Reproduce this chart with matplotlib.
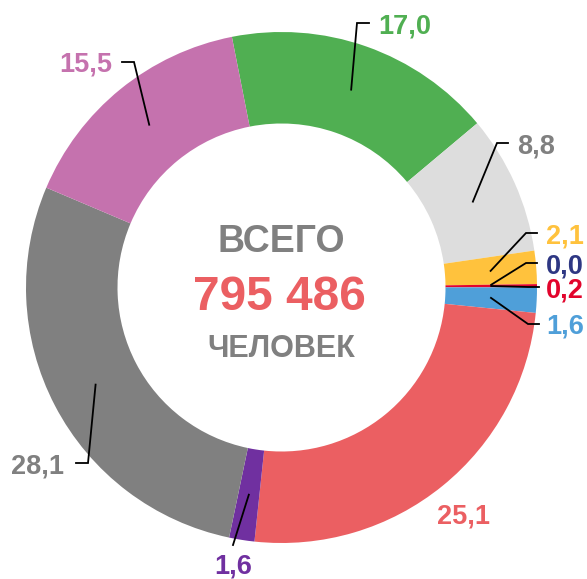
import matplotlib
matplotlib.use('Agg')
import matplotlib.pyplot as plt
import numpy as np

# shares, %, clockwise from the top
values = [17.0, 8.8, 2.1, 0.0, 0.2, 1.6, 25.1, 1.6, 28.1, 15.5]
total_people = "795 486"

colors = ['#50AF52', '#DDDDDD', '#FFC23D', '#2E3783', '#E2042C',
          '#4F9FD9', '#EB5F62', '#7030A0', '#808080', '#C572AE']
text_colors = ['#50AF52', '#808080', '#FFC23D', '#2E3783', '#E2042C',
               '#4F9FD9', '#EB5F62', '#7030A0', '#808080', '#C572AE']

# label layout in pixel coords (y from the top): elbow, end of tick, text anchor
elbows = [(357, 23), (497, 143), (526, 233), (526, 263), (528, 287),
          (528, 324), None, (233, 545), (88, 463), (134, 62)]
ticks = [(369, 23), (508, 143), (537, 233), (537, 263), (539, 287),
         (539, 324), None, None, (76, 463), (122, 62)]
text_pos = [(378, 33, 'left'), (517, 153, 'left'), (546, 243, 'left'),
            (546, 273, 'left'), (546, 297, 'left'), (546, 333, 'left'),
            (463, 523, 'center'), (233, 574, 'center'), (64, 473, 'right'),
            (112, 72, 'right')]

W, H = 587, 579
CX, CY = 281.5, 287.5
R_OUT, R_IN = 255.5, 164.0
START = 11.2  # degrees counter-clockwise of 12 o'clock

plt.rcParams['font.family'] = ['Liberation Sans', 'DejaVu Sans']

fig = plt.figure(figsize=(W / 100, H / 100), dpi=100)
ax = fig.add_axes([0, 0, 1, 1])
ax.set_xlim(0, W)
ax.set_ylim(0, H)
ax.set_aspect('equal')
ax.axis('off')


def py(y):
    return H - y


ax.pie(values, colors=colors, startangle=90 + START, counterclock=False,
       center=(CX, py(CY)), radius=R_OUT,
       wedgeprops=dict(width=R_OUT - R_IN, linewidth=0, antialiased=True),
       frame=True)
ax.set_xlim(0, W)
ax.set_ylim(0, H)
ax.axis('off')

# leader lines + labels
cum = np.cumsum([0] + values[:-1])
r_mid = (R_OUT + R_IN) / 2
for i, v in enumerate(values):
    ang = np.deg2rad(-START + (cum[i] + v / 2) * 3.6)  # clockwise from up
    ax_x = CX + r_mid * np.sin(ang)
    ax_y = CY - r_mid * np.cos(ang)
    if elbows[i] is not None:
        xs = [ax_x, elbows[i][0]]
        ys = [py(ax_y), py(elbows[i][1])]
        if ticks[i] is not None:
            xs.append(ticks[i][0])
            ys.append(py(ticks[i][1]))
        ax.plot(xs, ys, color='black', lw=1.3, solid_joinstyle='miter')
    tx, ty, ha = text_pos[i]
    ax.text(tx, py(ty), f"{v:.1f}".replace('.', ','), ha=ha, va='baseline',
            fontsize=19.5, fontweight='bold', color=text_colors[i])

# centre caption
ax.text(CX, py(252), "ВСЕГО", ha='center', va='baseline', fontsize=27,
        fontweight='bold', color='#808080')
ax.text(CX - 2, py(310), total_people, ha='center', va='baseline',
        fontsize=34.5, fontweight='bold', color='#EB5F62')
ax.text(CX, py(357), "ЧЕЛОВЕК", ha='center', va='baseline', fontsize=22,
        fontweight='bold', color='#808080')

fig.savefig('out.png', dpi=100)
